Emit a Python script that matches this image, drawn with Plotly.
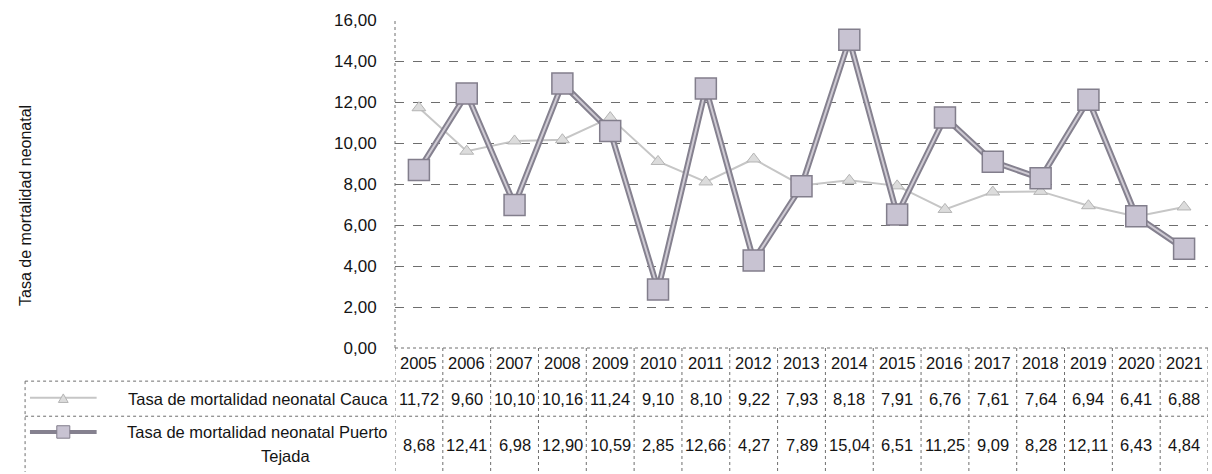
import plotly.graph_objects as go

years = [2005, 2006, 2007, 2008, 2009, 2010, 2011, 2012, 2013, 2014, 2015, 2016, 2017, 2018, 2019, 2020, 2021]
cauca = [11.72, 9.60, 10.10, 10.16, 11.24, 9.10, 8.10, 9.22, 7.93, 8.18, 7.91, 6.76, 7.61, 7.64, 6.94, 6.41, 6.88]
puerto = [8.68, 12.41, 6.98, 12.90, 10.59, 2.85, 12.66, 4.27, 7.89, 15.04, 6.51, 11.25, 9.09, 8.28, 12.11, 6.43, 4.84]
tick_vals = [0, 2, 4, 6, 8, 10, 12, 14, 16]
tick_text = ["0,00", "2,00", "4,00", "6,00", "8,00", "10,00", "12,00", "14,00", "16,00"]

name_cauca = "Tasa de mortalidad neonatal Cauca"
name_puerto = "Tasa de mortalidad neonatal Puerto Tejada"


def fmt(v):
    return f"{v:.2f}".replace('.', ',')


FONT = "Liberation Sans, Arial, sans-serif"
GRID = "#6e6e6e"
TXT = "#141414"

fig = go.Figure()

# serie Cauca (linea clara con triangulos)
fig.add_trace(go.Scatter(x=years, y=cauca, mode='lines+markers', name=name_cauca,
                         line=dict(color='#c6c6c6', width=2),
                         marker=dict(symbol='triangle-up', size=12, color='#dcdcdc',
                                     line=dict(color='#b4b4b4', width=1))))

# serie Puerto Tejada (linea gruesa doble con cuadrados)
fig.add_trace(go.Scatter(x=years, y=puerto, mode='lines', showlegend=False,
                         line=dict(color='#85818f', width=6)))
fig.add_trace(go.Scatter(x=years, y=puerto, mode='lines+markers', name=name_puerto,
                         line=dict(color='#cfcbd4', width=2),
                         marker=dict(symbol='square', size=21, color='#c8c3d2',
                                     line=dict(color='#827e8c', width=1.5))))

# tabla de datos bajo el grafico
y_head_bot = -0.101
y_row1_bot = -0.208
y_bottom = -0.378
x_label_left = -0.455
line_style = dict(color=GRID, width=1, dash='dot')

shapes = []
# lineas verticales de columnas
for yr in years + [years[-1] + 1]:
    shapes.append(dict(type='line', xref='x', yref='paper', x0=yr - 0.5, x1=yr - 0.5,
                       y0=0, y1=y_bottom, line=line_style))
# borde izquierdo del area de trazado
shapes.append(dict(type='line', xref='paper', yref='paper', x0=0, x1=0, y0=0, y1=1, line=line_style))
# borde izquierdo de etiquetas
shapes.append(dict(type='line', xref='paper', yref='paper', x0=x_label_left, x1=x_label_left,
                   y0=y_head_bot, y1=y_bottom, line=line_style))
# lineas horizontales
shapes.append(dict(type='line', xref='paper', yref='paper', x0=0, x1=1, y0=0, y1=0, line=line_style))
for yy in [y_head_bot, y_row1_bot]:
    shapes.append(dict(type='line', xref='paper', yref='paper', x0=x_label_left, x1=1,
                       y0=yy, y1=yy, line=line_style))

# claves de leyenda en la tabla
y_key1 = -0.152
y_key2 = -0.256
shapes.append(dict(type='line', xref='paper', yref='paper', x0=-0.449, x1=-0.367,
                   y0=y_key1, y1=y_key1, line=dict(color='#c6c6c6', width=2)))
shapes.append(dict(type='path', xref='paper', yref='paper',
                   path='M -0.414 -0.166 L -0.402 -0.166 L -0.408 -0.140 Z',
                   fillcolor='#dcdcdc', line=dict(color='#b4b4b4', width=1)))
shapes.append(dict(type='line', xref='paper', yref='paper', x0=-0.449, x1=-0.367,
                   y0=y_key2, y1=y_key2, line=dict(color='#85818f', width=4)))
shapes.append(dict(type='rect', xref='paper', yref='paper', x0=-0.416, x1=-0.400,
                   y0=-0.275, y1=-0.237, fillcolor='#c8c3d2', line=dict(color='#827e8c', width=1)))

annotations = []
tfont = dict(family=FONT, size=16.5, color=TXT)
for i, yr in enumerate(years):
    annotations.append(dict(x=yr, y=-0.046, xref='x', yref='paper', text=str(yr),
                            showarrow=False, font=tfont, xanchor='center', yanchor='middle'))
    annotations.append(dict(x=yr, y=-0.155, xref='x', yref='paper', text=fmt(cauca[i]),
                            showarrow=False, font=tfont, xanchor='center', yanchor='middle'))
    annotations.append(dict(x=yr, y=-0.296, xref='x', yref='paper', text=fmt(puerto[i]),
                            showarrow=False, font=tfont, xanchor='center', yanchor='middle'))

annotations.append(dict(x=-0.006, y=-0.155, xref='paper', yref='paper', text=name_cauca,
                        showarrow=False, font=tfont, xanchor='right', yanchor='middle'))
annotations.append(dict(x=-0.006, y=-0.256, xref='paper', yref='paper',
                        text="Tasa de mortalidad neonatal Puerto",
                        showarrow=False, font=tfont, xanchor='right', yanchor='middle'))
annotations.append(dict(x=-0.135, y=-0.33, xref='paper', yref='paper', text="Tejada",
                        showarrow=False, font=tfont, xanchor='center', yanchor='middle'))
# titulo eje y
annotations.append(dict(x=-0.454, y=0.436, xref='paper', yref='paper',
                        text="Tasa de mortalidad neonatal", textangle=-90,
                        showarrow=False, font=dict(family=FONT, size=16, color=TXT),
                        xanchor='center', yanchor='middle'))

fig.update_layout(
    width=1212, height=474,
    margin=dict(l=395, r=4, t=20, b=126),
    paper_bgcolor='white', plot_bgcolor='white',
    showlegend=False,
    font=dict(family=FONT, size=16, color=TXT),
    shapes=shapes,
    annotations=annotations,
)
fig.update_xaxes(range=[years[0] - 0.5, years[-1] + 0.5], showgrid=False, showticklabels=False,
                 zeroline=False, showline=False, fixedrange=True)
fig.update_yaxes(range=[0, 16], tickvals=tick_vals, ticktext=tick_text,
                 showgrid=True, gridcolor=GRID, gridwidth=1, griddash='dash',
                 zeroline=False, showline=False, fixedrange=True,
                 ticks='outside', ticklen=14, tickcolor='rgba(0,0,0,0)',
                 tickfont=dict(family=FONT, size=17, color=TXT))

# quitar el margen del body para que la figura ocupe la ventana
fig.write_html("out.html", config={'displayModeBar': False},
               post_script="document.body.style.margin='0';")
